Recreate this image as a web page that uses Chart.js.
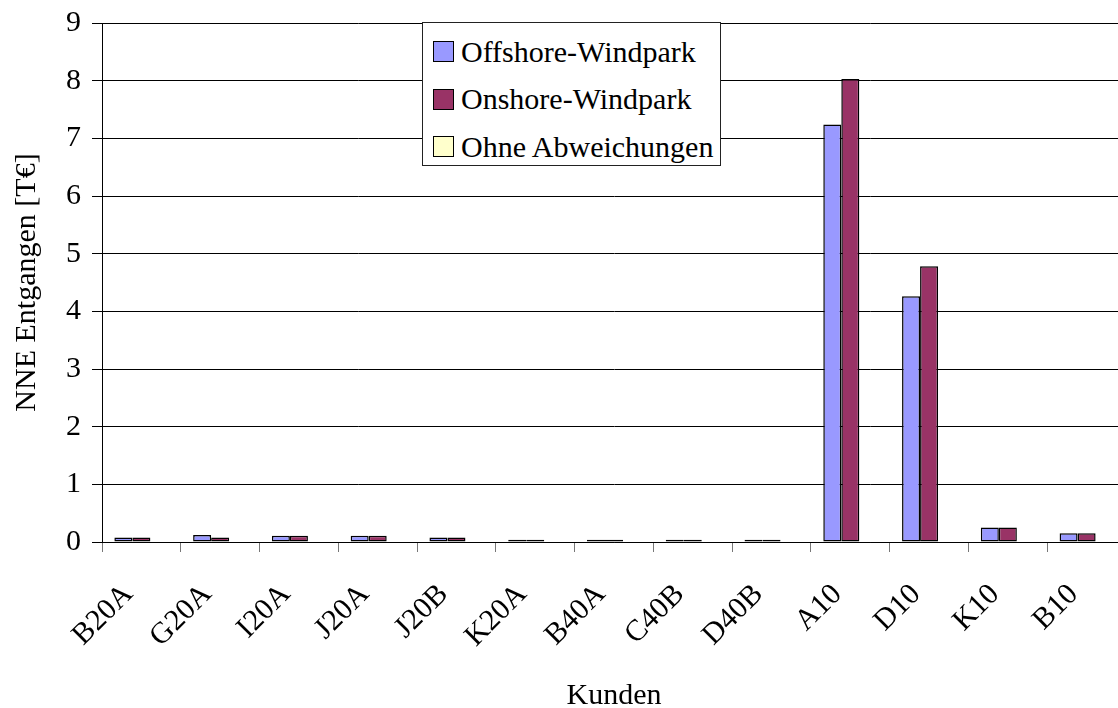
<!DOCTYPE html>
<html>
<head>
<meta charset="utf-8">
<script src="https://cdn.jsdelivr.net/npm/chart.js@4.4.1/dist/chart.umd.min.js"></script>
<style>
    html, body { margin: 0; padding: 0; background: #fff; overflow: hidden; }
    #wrap { position: relative; width: 1126px; height: 708px; }
    #legend {
        position: absolute; left: 422px; top: 22px; width: 299px; height: 144px;
        border: 1px solid #222; background: #fff; box-sizing: border-box;
        font-family: "Liberation Serif", "Times New Roman", serif; font-size: 30px; color: #000;
        padding-top: 5px;
    }
    #legend .row { display: flex; align-items: center; height: 47.5px; padding-left: 10px; }
    #legend .sw { width: 19px; height: 19px; border: 1.5px solid #000; margin-right: 7px; flex: none; }
</style>
</head>
<body>
<div id="wrap">
    <canvas id="barChart" width="1126" height="708"></canvas>
    <div id="legend"></div>
</div>
<script>
    const kunden = ['B20A', 'G20A', 'I20A', 'J20A', 'J20B', 'K20A', 'B40A', 'C40B', 'D40B', 'A10', 'D10', 'K10', 'B10'];
    const offshore = [0.08, 0.12, 0.11, 0.11, 0.08, 0.04, 0.04, 0.04, 0.04, 7.24, 4.26, 0.25, 0.15];
    const onshore = [0.08, 0.08, 0.11, 0.11, 0.08, 0.04, 0.04, 0.04, 0.04, 8.03, 4.78, 0.25, 0.15];
    const ohneAbweichungen = [0, 0, 0, 0, 0, 0, 0, 0, 0, 0, 0, 0, 0];
    const yTicks = [0, 1, 2, 3, 4, 5, 6, 7, 8, 9];

    const serif = '"Liberation Serif", "Times New Roman", serif';

    const datasets = [{
        label: 'Offshore-Windpark',
        data: offshore,
        backgroundColor: '#9999FF'
    }, {
        label: 'Onshore-Windpark',
        data: onshore,
        backgroundColor: '#993366'
    }, {
        label: 'Ohne Abweichungen',
        data: ohneAbweichungen,
        backgroundColor: '#FFFFCC'
    }];
    datasets.forEach(function (d) {
        d.borderColor = '#000';
        d.borderWidth = 1.5;
        d.borderSkipped = false;
        d.categoryPercentage = 0.686;
        d.barPercentage = 1.0;
    });

    // legend sits over the plot, so it is built as html from the datasets
    const legendEl = document.getElementById('legend');
    datasets.forEach(function (d) {
        const row = document.createElement('div');
        row.className = 'row';
        const sw = document.createElement('span');
        sw.className = 'sw';
        sw.style.background = d.backgroundColor;
        const txt = document.createElement('span');
        txt.textContent = d.label;
        row.appendChild(sw);
        row.appendChild(txt);
        legendEl.appendChild(row);
    });

    new Chart(document.getElementById('barChart'), {
        type: 'bar',
        data: { labels: kunden, datasets: datasets },
        options: {
            responsive: false,
            animation: false,
            devicePixelRatio: 1,
            layout: { padding: { top: 23, right: 0, bottom: 0, left: 0 } },
            plugins: {
                legend: { display: false },
                tooltip: { enabled: false }
            },
            scales: {
                x: {
                    grid: {
                        offset: true,
                        drawOnChartArea: false,
                        drawTicks: true,
                        tickLength: 10,
                        color: '#777'
                    },
                    border: { color: '#000', width: 1 },
                    ticks: {
                        autoSkip: false,
                        minRotation: 45,
                        maxRotation: 45,
                        padding: 25,
                        labelOffset: -13,
                        color: '#000',
                        font: { family: serif, size: 30 }
                    },
                    title: {
                        display: true,
                        text: 'Kunden',
                        color: '#000',
                        font: { family: serif, size: 30, lineHeight: 0.8 },
                        padding: { top: 0, bottom: 0 }
                    },
                    afterFit: function (scale) {
                        scale.height = 166;
                        scale.paddingLeft = 0;
                        scale.paddingRight = 0;
                    }
                },
                y: {
                    min: 0,
                    max: 9,
                    afterBuildTicks: function (scale) {
                        scale.ticks = yTicks.map(function (v) { return { value: v }; });
                    },
                    grid: {
                        color: '#000',
                        lineWidth: 1,
                        tickLength: 10
                    },
                    border: { color: '#000', width: 1 },
                    ticks: {
                        padding: 11,
                        color: '#000',
                        font: { family: serif, size: 30 }
                    },
                    title: {
                        display: true,
                        text: 'NNE Entgangen [T€]',
                        color: '#000',
                        font: { family: serif, size: 30, lineHeight: 1.2 },
                        padding: { top: 9, bottom: 0 }
                    },
                    afterFit: function (scale) {
                        scale.width = 102;
                        scale.paddingTop = 0;
                        scale.paddingBottom = 0;
                    }
                }
            }
        }
    });
</script>
</body>
</html>
